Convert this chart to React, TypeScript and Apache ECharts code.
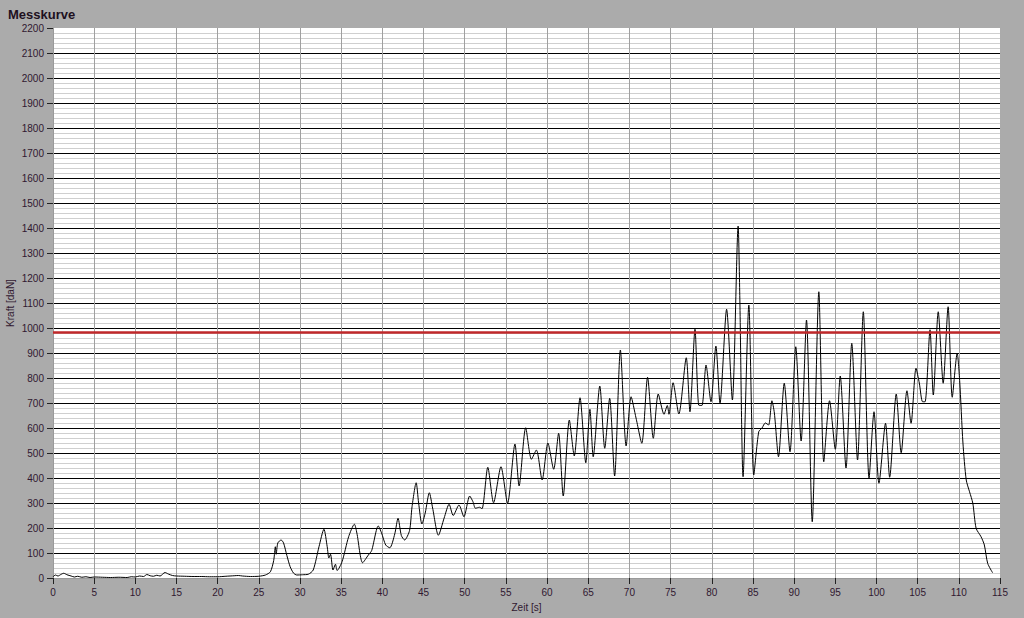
import React, { useEffect, useRef } from "react";
import * as echarts from "echarts";

const titleText = "Messkurve";
const xName = "Zeit [s]";
const yName = "Kraft [daN]";
const limitValue = 985;

const timeS = [
  0, 0.3, 0.6, 1.0, 1.3, 1.7, 2.2, 2.6, 3.0, 3.5, 4.0, 4.5, 5.0, 6.0, 7.0, 8.0, 9.0, 9.5, 10.0, 10.5,
  11.0, 11.4, 11.8, 12.2, 12.6, 13.0, 13.6, 14.0, 14.5, 15.0, 16.0, 17.0, 18.0, 19.0, 20.0, 21.0, 22.0, 22.5, 23.0, 24.0,
  25.0, 25.8, 26.4, 26.8, 27.0, 27.1, 27.3, 27.7, 28.0, 28.4, 28.8, 29.2, 29.6, 30.3, 31.0, 31.6, 32.3, 32.9, 33.3, 33.5,
  33.7, 34.0, 34.3, 34.5, 35.1, 35.9, 36.6, 36.9, 37.6, 38.3, 38.7, 39.5, 39.9, 40.4, 40.9, 41.5, 41.9, 42.3, 42.7, 43.3,
  43.6, 44.1, 44.4, 44.8, 45.2, 45.7, 46.1, 46.8, 47.5, 48.1, 48.6, 49.3, 49.9, 50.6, 51.0, 51.3, 51.8, 52.1, 52.8, 53.5,
  54.4, 55.2, 56.1, 56.6, 57.4, 58.1, 58.7, 59.4, 60.1, 60.8, 61.4, 61.96, 62.7, 63.3, 64.0, 64.7, 65.2, 65.6, 66.4, 67.0,
  67.6, 68.2, 68.9, 69.6, 70.2, 70.8, 71.5, 72.2, 72.9, 73.5, 74.2, 74.6, 74.8, 75.3, 76.0, 76.9, 77.35, 77.96, 78.4, 78.8,
  79.3, 79.9, 80.5, 81.0, 81.8, 82.5, 83.2, 83.4, 83.8, 84.5, 85.1, 85.7, 86.1, 86.5, 86.9, 87.3, 87.6, 88.1, 88.8, 89.5,
  90.2, 90.85, 91.5, 92.2, 93.0, 93.6, 94.3, 95.0, 95.6, 96.3, 97.0, 97.7, 98.4, 99.1, 99.7, 100.3, 101.1, 101.6, 102.4, 103.0,
  103.7, 104.2, 104.8, 105.2, 105.6, 105.9, 106.5, 106.9, 107.5, 108.1, 108.7, 109.2, 109.8, 110.1, 110.5, 110.9, 111.3, 111.7, 112.1, 112.7,
  113.1, 113.5, 114.1,
];

const forceDaN = [
  5, 12, 8, 15, 19, 13, 8, 4, 7, 3, 5, 2, 4, 3, 2, 3, 2, 5, 4, 8,
  6, 14, 9, 7, 11, 8, 22, 16, 10, 8, 7, 6, 6, 5, 5, 7, 9, 10, 8, 6,
  7, 12, 25, 70, 125, 95, 140, 152, 140, 90, 45, 20, 12, 13, 15, 32, 125, 195, 125, 80,
  95, 32, 55, 30, 65, 165, 215, 180, 61, 92, 110, 208, 180, 132, 121, 176, 239, 170, 152, 190,
  285, 381, 300, 216, 260, 341, 280, 171, 240, 295, 250, 292, 245, 328, 305, 279, 283, 277, 443, 301,
  445, 299, 536, 368, 601, 475, 512, 392, 540, 435, 579, 328, 632, 488, 721, 461, 675, 485, 768, 519,
  719, 408, 912, 528, 725, 640, 539, 803, 559, 736, 655, 690, 655, 781, 656, 881, 665, 995, 692, 690,
  852, 705, 928, 699, 1075, 712, 1408, 1130, 405, 1092, 412, 585, 600, 620, 612, 709, 660, 485, 779, 505,
  925, 548, 1032, 225, 1145, 465, 709, 515, 808, 440, 939, 472, 1065, 399, 665, 379, 619, 403, 736, 501,
  749, 619, 839, 780, 705, 705, 993, 732, 1065, 779, 1085, 723, 899, 790, 540, 392, 345, 299, 199, 165,
  132, 59, 21,
];

const labelColor = "#301830";
const font = "Liberation Sans";

export default function App() {
  const ref = useRef<HTMLDivElement>(null);
  useEffect(() => {
    document.body.style.margin = "0";
    const chart = echarts.init(ref.current!, null, { renderer: "svg" });
    const data = timeS.map((t, i) => [t, forceDaN[i]]);
    chart.setOption({
      animation: false,
      backgroundColor: "#ababab",
      title: {
        text: titleText,
        left: 3,
        top: 3,
        textStyle: { fontFamily: font, fontSize: 13, fontWeight: "bold", color: "#1e1020" },
      },
      grid: {
        left: 53,
        right: 24,
        top: 28,
        bottom: 40,
        containLabel: false,
        outerBoundsMode: "none",
        show: true,
        backgroundColor: "#ffffff",
        borderWidth: 0,
      },
      xAxis: {
        type: "value",
        min: 0,
        max: 115,
        interval: 5,
        name: xName,
        nameLocation: "middle",
        nameGap: 24,
        nameTextStyle: { fontFamily: font, fontSize: 10, color: labelColor },
        axisLine: { show: true, lineStyle: { color: "#9a9a9a", width: 1 } },
        axisTick: { show: true, length: 6, lineStyle: { color: "#222" } },
        axisLabel: { fontFamily: font, fontSize: 10, color: labelColor, margin: 9, formatter: (v: number) => String(v) },
        splitLine: { show: true, showMinLine: false, showMaxLine: false, lineStyle: { color: "#a0a0a0", width: 1 } },
      },
      yAxis: {
        type: "value",
        min: 0,
        max: 2200,
        interval: 100,
        name: yName,
        nameLocation: "middle",
        nameGap: 38,
        nameMoveOverlap: false,
        nameTextStyle: { fontFamily: font, fontSize: 10, color: labelColor },
        axisLine: { show: true, lineStyle: { color: "#9a9a9a", width: 1 } },
        axisTick: { show: true, length: 6, lineStyle: { color: "#222" } },
        axisLabel: { fontFamily: font, fontSize: 10, color: labelColor, margin: 9, formatter: (v: number) => String(v) },
        minorTick: { show: false, splitNumber: 5 },
        minorSplitLine: { show: true, lineStyle: { color: "#cfcfcf", width: 1 } },
        splitLine: { show: true, showMinLine: false, showMaxLine: false, lineStyle: { color: "#000000", width: 1 } },
      },
      series: [
        {
          type: "line",
          data,
          symbol: "none",
          smooth: 0.25,
          lineStyle: { color: "#000000", width: 1 },
          z: 3,
          markLine: {
            silent: true,
            symbol: "none",
            label: { show: false },
            lineStyle: { color: "#c0282a", width: 2.5, type: "solid" },
            data: [{ yAxis: limitValue }],
          },
        },
      ],
    });
    return () => chart.dispose();
  }, []);
  return <div ref={ref} style={{ position: "fixed", left: 0, top: 0, width: 1024, height: 618 }} />;
}
